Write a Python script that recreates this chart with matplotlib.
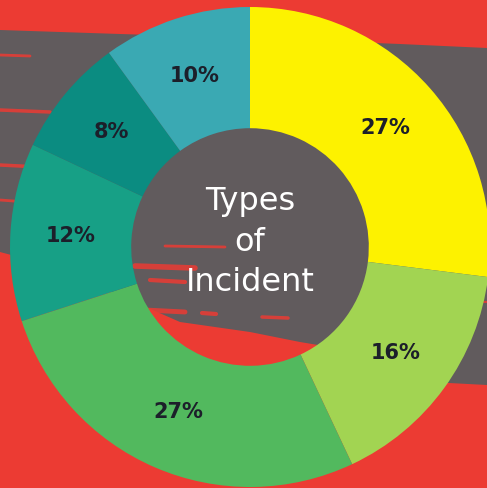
import numpy as np
import matplotlib
matplotlib.use("Agg")
import matplotlib.pyplot as plt

# data
labels = ["27%", "16%", "27%", "12%", "8%", "10%"]
values = [27, 16, 27, 12, 8, 10]
colors = ["#fdf200", "#a2d452", "#52b95e", "#17a086", "#0b8c81", "#3aa9b3"]
center_title = "Types\nof\nIncident"

red = "#ec3b33"
gray = "#615b5d"

W, H = 487, 488
cx, cy, R = 250, 247, 240   # pixel centre and outer radius of donut


def px(x, y):
    # pixel -> data coords (outer radius = 1)
    return (x - cx) / R, (cy - y) / R


fig = plt.figure(figsize=(W / 100, H / 100), dpi=100)
fig.patch.set_facecolor(red)
ax = fig.add_axes([0, 0, 1, 1])
ax.set_facecolor(red)
ax.axis("off")

# painted gray band behind the chart
band = [(0, 30), (120, 34), (250, 38), (400, 44), (487, 48), (487, 385),
        (430, 382), (360, 352), (300, 342), (250, 332), (180, 322),
        (130, 300), (60, 268), (0, 252)]
bx, by = zip(*[px(x, y) for x, y in band])
ax.fill(bx, by, color=gray, zorder=0, lw=0)

# red brush streaks
streaks = [((0, 55), (30, 56), 2), ((0, 110), (50, 112), 2.5), ((0, 165), (60, 168), 2.5),
           ((0, 200), (40, 203), 2), ((165, 246), (225, 247), 2),
           ((135, 266), (195, 268), 4), ((150, 280), (185, 282), 3),
           ((145, 310), (185, 312), 3.5), ((202, 313), (216, 314), 3),
           ((262, 317), (288, 318), 2.5), ((445, 300), (487, 302), 1.5)]
for (x0, y0), (x1, y1), lw in streaks:
    (a, b), (c, d) = px(x0, y0), px(x1, y1)
    ax.plot([a, c], [b, d], color=red, lw=lw, alpha=0.85,
            solid_capstyle="round", zorder=1)

wedges, texts = ax.pie(values, colors=colors, startangle=90, counterclock=False,
                       radius=1.0, wedgeprops=dict(width=0.505, linewidth=0),
                       labels=labels, labeldistance=0.75,
                       textprops=dict(fontsize=15, fontweight="bold",
                                      color="#1c1f2a", ha="center", va="center"))
for w in wedges:
    w.set_zorder(2)
for t in texts:
    t.set_ha("center")
    t.set_zorder(3)

ax.set_xlim(px(0, 0)[0], px(W, 0)[0])
ax.set_ylim(px(0, H)[1], px(0, 0)[1])
ax.set_aspect("auto")

ax.text(0, 0.02, center_title, ha="center", va="center", fontsize=23,
        color="white", linespacing=1.4, zorder=4)

plt.savefig("out.png", dpi=100, facecolor=red)
